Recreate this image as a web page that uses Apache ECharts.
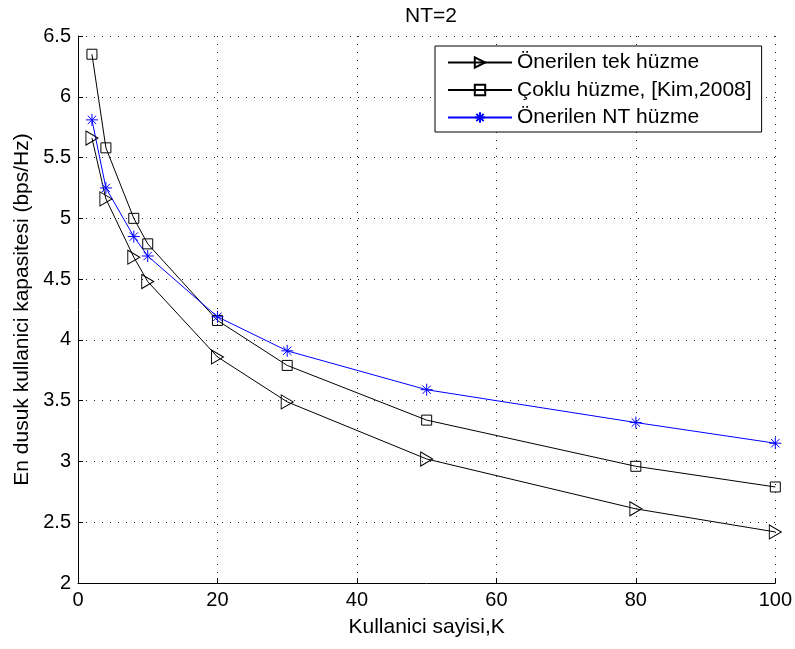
<!DOCTYPE html>
<html>
<head>
<meta charset="utf-8">
<script src="https://cdn.jsdelivr.net/npm/echarts@6/dist/echarts.min.js"></script>
<style>html,body{margin:0;padding:0;background:#fff;}#c{width:795px;height:649px;}</style>
</head>
<body>
<div id="c"></div>
<script>
const kValues = [2, 4, 8, 10, 20, 30, 50, 80, 100];
const tekHuzme = [5.66, 5.16, 4.68, 4.48, 3.86, 3.49, 3.02, 2.61, 2.42];
const cokluHuzme = [6.35, 5.58, 5.00, 4.79, 4.16, 3.79, 3.34, 2.96, 2.79];
const ntHuzme = [5.81, 5.25, 4.85, 4.69, 4.19, 3.91, 3.59, 3.32, 3.15];
const seriesNames = ['Önerilen tek hüzme', 'Çoklu hüzme, [Kim,2008]', 'Önerilen NT hüzme'];

const pair = (ys) => kValues.map((x, i) => [x, ys[i]]);
const FONT = 'Liberation Sans';
const chart = echarts.init(document.getElementById('c'), null, {renderer: 'canvas'});
const gridLine = {show: true, lineStyle: {color: '#222', width: 1, type: [1, 7]}};
chart.setOption({
  animation: false,
  backgroundColor: '#fff',
  textStyle: {fontFamily: FONT},
  title: {
    text: 'NT=2', left: 426, top: 1, textAlign: 'center',
    textStyle: {fontFamily: FONT, fontSize: 21, fontWeight: 'normal', color: '#000'}
  },
  grid: {left: 78, right: 19, top: 36, bottom: 66, containLabel: false},
  xAxis: {
    type: 'value', min: 0, max: 100, interval: 20,
    name: 'Kullanici sayisi,K', nameLocation: 'middle', nameGap: 34,
    nameTextStyle: {fontFamily: FONT, fontSize: 21, color: '#000'},
    axisLine: {show: true, onZero: false, lineStyle: {color: '#000', width: 1}},
    axisTick: {show: true, inside: true, length: 5, lineStyle: {color: '#000'}},
    axisLabel: {fontFamily: FONT, fontSize: 20, color: '#000', margin: 7},
    splitLine: gridLine
  },
  yAxis: {
    type: 'value', min: 2, max: 6.5, interval: 0.5,
    name: 'En dusuk kullanici kapasitesi (bps/Hz)', nameLocation: 'middle', nameGap: 40, nameRotate: 90,
    nameTextStyle: {fontFamily: FONT, fontSize: 21, color: '#000'},
    axisLine: {show: true, onZero: false, lineStyle: {color: '#000', width: 1}},
    axisTick: {show: true, inside: true, length: 5, lineStyle: {color: '#000'}},
    axisLabel: {fontFamily: FONT, fontSize: 20, color: '#000', margin: 7},
    splitLine: gridLine
  },
  legend: {
    orient: 'vertical', left: 435, top: 46,
    backgroundColor: '#fff', borderColor: '#000', borderWidth: 1,
    padding: [6, 10, 4, 12], itemGap: 6.5, itemWidth: 64, itemHeight: 13,
    textStyle: {fontFamily: FONT, fontSize: 21, color: '#000'},
    data: seriesNames
  },
  series: [
    {
      name: seriesNames[0], type: 'line', data: pair(tekHuzme),
      symbol: 'path://M0,0L11,6.5L0,13Z', symbolSize: [12, 14],
      itemStyle: {color: 'rgba(0,0,0,0)', borderColor: '#000', borderWidth: 1},
      lineStyle: {color: '#000', width: 1}
    },
    {
      name: seriesNames[1], type: 'line', data: pair(cokluHuzme),
      symbol: 'rect', symbolSize: 10,
      itemStyle: {color: 'rgba(0,0,0,0)', borderColor: '#000', borderWidth: 1},
      lineStyle: {color: '#000', width: 1}
    },
    {
      name: seriesNames[2], type: 'line', data: pair(ntHuzme),
      symbol: 'path://M0,-1L0,1M-1,0L1,0M-0.7,-0.7L0.7,0.7M-0.7,0.7L0.7,-0.7', symbolSize: 12,
      itemStyle: {color: 'rgba(0,0,0,0)', borderColor: '#0000ff', borderWidth: 1},
      lineStyle: {color: '#0000ff', width: 1}
    }
  ]
});
</script>
</body>
</html>
